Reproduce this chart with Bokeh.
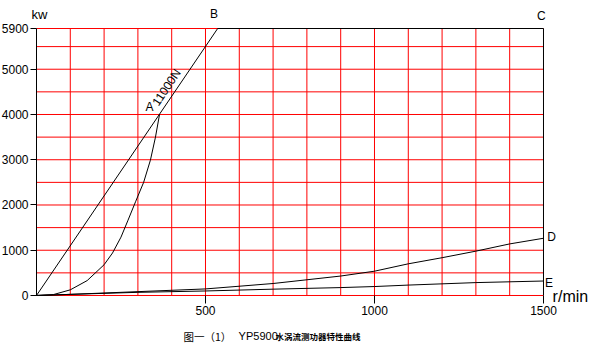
from bokeh.plotting import figure
from bokeh.models import Range1d, FixedTicker, Label
from bokeh.embed import file_html
from bokeh.resources import INLINE

# ---- data (r/min, kW) ----
curve_oa_r = [0, 50, 100, 150, 200, 225, 250, 270, 293, 317, 337, 352, 364]
curve_oa_p = [0, 20, 125, 330, 680, 940, 1290, 1650, 2070, 2500, 2990, 3500, 4000]

envelope_r = [0, 536, 1500, 1500]
envelope_p = [0, 5900, 5900, 0]

curve_d_r = [0, 100, 300, 500, 700, 900, 1000, 1100, 1200, 1300, 1400, 1500]
curve_d_p = [0, 25, 85, 145, 265, 430, 537, 700, 835, 980, 1140, 1265]

curve_e_r = [0, 100, 300, 500, 700, 900, 1000, 1100, 1300, 1500]
curve_e_p = [0, 25, 70, 100, 140, 175, 198, 230, 285, 320]

x_ticks = [500, 1000, 1500]
y_ticks = [0, 1000, 2000, 3000, 4000, 5000, 5900]
x_grid = [100, 200, 300, 400, 500, 600, 700, 800, 900, 1000, 1100, 1200, 1300, 1400]
y_grid = [0, 500, 1000, 1500, 2000, 2500, 3000, 3500, 4000, 4500, 5000, 5500, 5900]
r_min, r_max = 0, 1500
p_min, p_max = 0, 5900

point_labels = ["A", "B", "C", "D", "E"]
point_label_r = [334, 525, 1494, 1524, 1516]
point_label_p = [4155, 6210, 6166, 1282, 287]

FONT = "Liberation Sans"
CJK = "Noto Sans CJK SC"
RED = "#ff0000"

p = figure(width=590, height=351, output_backend="svg", toolbar_location=None,
           x_range=Range1d(-106.5, 1639.1), y_range=Range1d(-1237.5, 6518.8),
           min_border=0)
p.outline_line_color = None
p.xgrid.visible = False
p.ygrid.visible = False

# axes placed at the data origin
p.xaxis.fixed_location = 0
p.yaxis.fixed_location = 0
p.xaxis.bounds = (r_min, r_max)
p.yaxis.bounds = (p_min, p_max)
p.xaxis.ticker = FixedTicker(ticks=x_ticks)
p.yaxis.ticker = FixedTicker(ticks=y_ticks)
p.xaxis.axis_line_color = None
p.xaxis.major_tick_out = 8
p.xaxis.major_tick_in = 0
p.xaxis.minor_tick_line_color = None
p.xaxis.major_label_standoff = 3
p.yaxis.major_tick_out = 6
p.yaxis.major_tick_in = 0
p.yaxis.minor_tick_line_color = None
p.yaxis.major_label_standoff = 2
p.yaxis.axis_line_color = "black"
for ax in (p.xaxis, p.yaxis):
    ax.major_label_text_font = FONT
    ax.major_label_text_font_size = "12px"
    ax.major_label_text_color = "black"
    ax.major_tick_line_color = "black"

# red grid
p.segment(x0=x_grid, y0=[p_min] * len(x_grid), x1=x_grid, y1=[p_max] * len(x_grid),
          line_color=RED, line_width=1)
p.segment(x0=[r_min] * len(y_grid), y0=y_grid, x1=[r_max] * len(y_grid), y1=y_grid,
          line_color=RED, line_width=1)

# curves
p.line(envelope_r, envelope_p, line_color="black", line_width=1)
p.line(curve_oa_r, curve_oa_p, line_color="black", line_width=1)
p.line(curve_d_r, curve_d_p, line_color="black", line_width=1)
p.line(curve_e_r, curve_e_p, line_color="black", line_width=1)


def lab(x, y, text, size, font=FONT, align="center", style="normal", angle=0.0):
    p.add_layout(Label(x=x, y=y, text=text, text_font=font, text_font_size=size,
                       text_font_style=style, text_align=align, text_baseline="middle",
                       text_color="black", angle=angle, angle_units="rad"))


for t, r, pw in zip(point_labels, point_label_r, point_label_p):
    lab(r, pw, t, "12px")

lab(385, 4600, "11000N", "12px", angle=0.98)
lab(9, 6210, "kw", "13px")
lab(1527, -22, "r/min", "16px", align="left")
lab(435, -906, "图一（1）", "10.5px", font=CJK, align="left")
lab(598, -906, "YP5900", "11px", align="left")
lab(707, -906, "水涡流测功器特性曲线", "8.5px", font=CJK, align="left", style="bold")

open("out.html", "w").write(file_html(p, INLINE))
